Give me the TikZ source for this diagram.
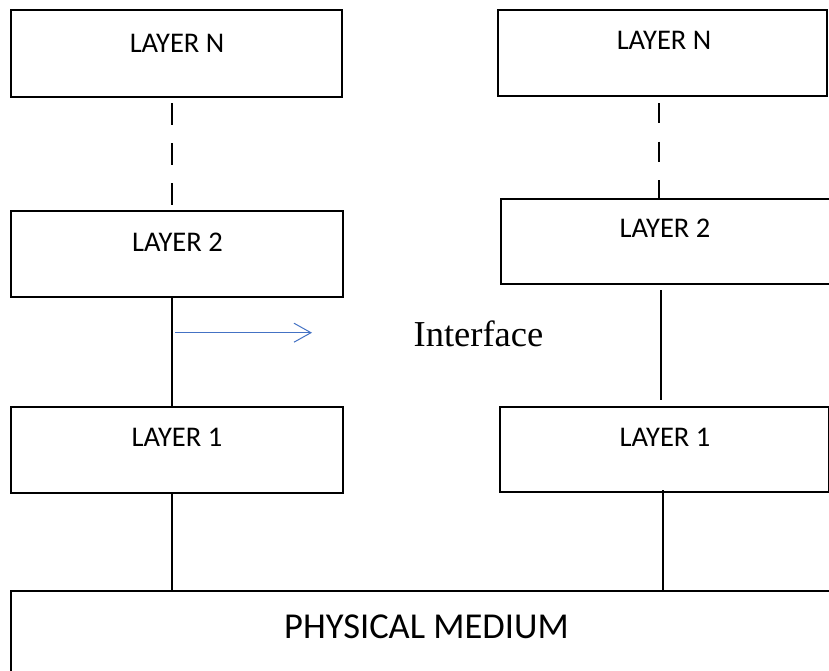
\documentclass[tikz,border=0pt]{standalone}
\usepackage{fontspec}
\newfontfamily\calfont{Carlito}
\newfontfamily\tnrfont{Liberation Serif}
\usetikzlibrary{arrows.meta}
\definecolor{arrowblue}{HTML}{4472C4}
\tikzset{
  layerbox/.style={draw=black, line width=2.2pt, rectangle, inner sep=0pt, outer sep=0pt},
  lbl/.style={font=\calfont\fontsize{28.5}{30}\selectfont, inner sep=0pt, anchor=base},
  biglbl/.style={font=\calfont\fontsize{36.5}{38}\selectfont, inner sep=0pt, anchor=base},
  iflbl/.style={font=\tnrfont\fontsize{36.5}{38}\selectfont, inner sep=0pt, anchor=base},
  conn/.style={draw=black, line width=2pt},
  dconn/.style={draw=black, line width=2.2pt, dash pattern=on 22pt off 18pt, dash phase=34pt},
  dconnr/.style={draw=black, line width=2.2pt, dash pattern=on 20pt off 18.5pt, dash phase=31.5pt},
  ifarrow/.style={draw=arrowblue, line width=1pt, -{Straight Barb[length=17pt,width=19pt,line width=1pt]}}
}
\begin{document}
\begin{tikzpicture}[x=1pt,y=-1pt]
\useasboundingbox (0,0) rectangle (829,670);
\clip (0,0) rectangle (829,670);
\fill[white] (0,0) rectangle (829,670);
% boxes
\node[layerbox, minimum width=331pt, minimum height=87pt] (ln) at (176.5,53.5) {};
\node[layerbox, minimum width=332pt, minimum height=86pt] (l2) at (177,254) {};
\node[layerbox, minimum width=332pt, minimum height=86pt] (l1) at (177,450) {};
\node[layerbox, minimum width=329pt, minimum height=86pt] (rn) at (662.5,53) {};
\node[layerbox, minimum width=331pt, minimum height=85.5pt] (r2) at (666.5,241.5) {};
\node[layerbox, minimum width=329pt, minimum height=85.5pt] (r1) at (664.5,449.5) {};
\node[layerbox, minimum width=824pt, minimum height=85pt] (ph) at (423,633.5) {};
% labels
\node[lbl] (tln) at (177,52) {LAYER N};
\node[lbl] (tl2) at (177.5,251) {LAYER 2};
\node[lbl] (tl1) at (177,446) {LAYER 1};
\node[lbl] (trn) at (664,49) {LAYER N};
\node[lbl] (tr2) at (665,237) {LAYER 2};
\node[lbl] (tr1) at (665,446) {LAYER 1};
\node[biglbl] (tph) at (426.5,638) {PHYSICAL MEDIUM};
\node[iflbl] (tif) at (478.5,346) {Interface};
% connector x positions
\coordinate (lx) at (172,0);
\coordinate (rxa) at (659,0);
\coordinate (rxb) at (661,0);
\coordinate (rxc) at (663,0);
\coordinate (r2gap) at (0,290);
\coordinate (r1gap) at (0,400);
\coordinate (r1in) at (0,490);
% left column
\draw[dconn] (ln.south -| lx) -- (l2.north -| lx);
\draw[conn] (l2.south -| lx) -- (l1.north -| lx);
\draw[conn] (l1.south -| lx) -- (ph.north -| lx);
% right column
\draw[dconnr] (rn.south -| rxa) -- (r2.north -| rxa);
\draw[conn] (r2gap -| rxb) -- (r1gap -| rxb);
\draw[conn] (r1in -| rxc) -- (ph.north -| rxc);
% interface arrow
\coordinate (ia) at (175,332.7);
\coordinate (ib) at (312,332.7);
\draw[ifarrow] (ia) -- (ib);
\end{tikzpicture}
\end{document}
